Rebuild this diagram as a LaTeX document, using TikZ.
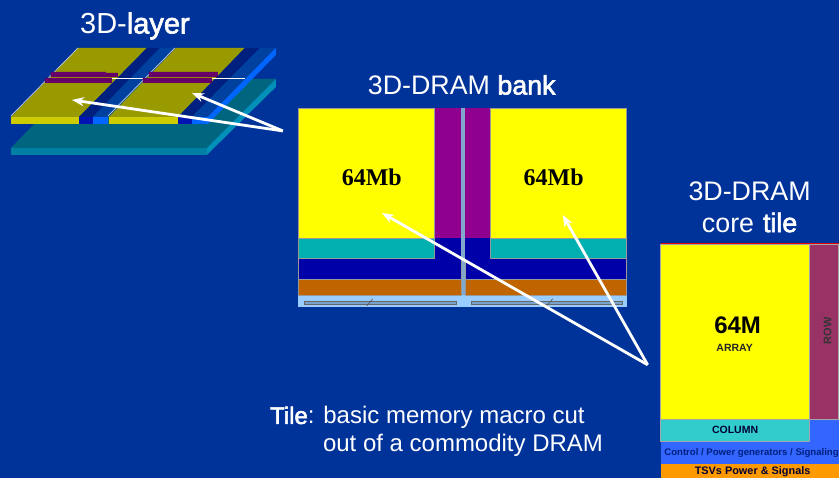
\documentclass[tikz,border=0pt]{standalone}
\usepackage{fontspec}
\setmainfont{Liberation Sans}
\newfontfamily\serifface{Liberation Serif}
\newfontfamily\fatface[FakeBold=2.2]{Liberation Sans}
\usetikzlibrary{arrows.meta}
\definecolor{slidebg}{HTML}{003399}
\definecolor{olivetop}{HTML}{999900}
\definecolor{olivefront}{HTML}{CCCC00}
\definecolor{stripdark}{HTML}{002080}
\definecolor{stripmid}{HTML}{00409F}
\definecolor{stripfront}{HTML}{0066FF}
\definecolor{tealtop}{HTML}{006680}
\definecolor{tealfront}{HTML}{007FA5}
\definecolor{tealside}{HTML}{0090B8}
\definecolor{wirepurple}{HTML}{660066}
\definecolor{bankyellow}{HTML}{FFFF00}
\definecolor{bankpurple}{HTML}{8F008F}
\definecolor{bankteal}{HTML}{00B0B0}
\definecolor{bankblue}{HTML}{0000A8}
\definecolor{bankorange}{HTML}{C06400}
\definecolor{banklight}{HTML}{99CCFF}
\definecolor{bankdivider}{HTML}{7FA8CC}
\definecolor{tilerow}{HTML}{993366}
\definecolor{tileteal}{HTML}{33CCCC}
\definecolor{tileblue}{HTML}{3366FF}
\definecolor{tileorange}{HTML}{FF9900}
\begin{document}
\begin{tikzpicture}[x=1pt,y=-1pt,>={Stealth[length=12pt,width=9pt]}]
    \tikzstyle{block} = [rectangle, anchor=north west, inner sep=0pt, outer sep=0pt];
    \tikzstyle{bankblock} = [block, draw=black!40, line width=0.4pt];
    \tikzstyle{tileblock} = [block, draw=black!35, line width=0.4pt];
    \tikzstyle{heading} = [text=white, font=\fontsize{26.8}{32}\selectfont, align=center];
    \tikzstyle{memlabel} = [font=\serifface\bfseries\fontsize{24}{28}\selectfont];
    \tikzstyle{pointer} = [->, draw=white, line width=2.8pt];
    \fill [slidebg] (0,0) rectangle (839,478);
    % bottom layer
    \fill [tealtop] (78,79) -- (276,79) -- (207,148) -- (11,148) -- cycle;
    \fill [tealfront] (11,148) rectangle (207,155);
    \fill [tealside] (276,79) -- (276,87) -- (207,155) -- (207,148) -- cycle;
    % top layer
    \fill [olivetop] (78,48) -- (147,48) -- (79,117) -- (11,117) -- cycle;
    \fill [stripdark] (147,48) -- (160,48) -- (93,117) -- (79,117) -- cycle;
    \fill [stripmid] (160,48) -- (175,48) -- (108,117) -- (93,117) -- cycle;
    \fill [olivetop] (176,48) -- (245,48) -- (178,117) -- (109,117) -- cycle;
    \fill [stripdark] (245,48) -- (260,48) -- (192,117) -- (178,117) -- cycle;
    \fill [stripmid] (260,48) -- (276,48) -- (208,117) -- (192,117) -- cycle;
    \fill [stripfront] (276,48) -- (276,55) -- (208,124) -- (208,117) -- cycle;
    \fill [olivefront] (11,117) rectangle (79,124);
    \fill [stripdark!60!blue] (79,117) rectangle (93,124);
    \fill [stripfront] (93,117) rectangle (108,124);
    \fill [olivefront] (109,117) rectangle (178,124);
    \fill [stripdark!60!blue] (178,117) rectangle (192,124);
    \fill [stripfront] (192,117) rectangle (208,124);
    \draw [white!75!slidebg, line width=0.7pt] (11,116) -- (78,48) (108,116) -- (175,48);
    \draw [white, line width=0.7pt] (106,78) -- (245,78);
    \fill [wirepurple] (51,72) rectangle (106,77) (106,73) rectangle (118,77) (45,78) rectangle (112,83);
    \fill [wirepurple] (149,72) rectangle (218,77) (143,78) rectangle (212,83);
    % bank
    \node [block, fill=banklight, minimum width=329pt, minimum height=199pt] (banklight) at (298,108) {};
    \node [block, fill=bankdivider, minimum width=4pt, minimum height=187pt] (bankdivider) at (461,108) {};
    \node [bankblock, fill=bankorange, minimum width=163pt, minimum height=16pt] (orangel) at (298,279) {};
    \node [bankblock, fill=bankorange, minimum width=162pt, minimum height=16pt] (oranger) at (465,279) {};
    \node [bankblock, fill=bankblue, minimum width=163pt, minimum height=21pt] (bluel) at (298,258) {};
    \node [bankblock, fill=bankblue, minimum width=162pt, minimum height=21pt] (bluer) at (465,258) {};
    \node [block, fill=bankblue, minimum width=27pt, minimum height=21pt] (bluemidl) at (434,238) {};
    \node [block, fill=bankblue, minimum width=25pt, minimum height=21pt] (bluemidr) at (465,238) {};
    \node [bankblock, fill=bankteal, minimum width=136pt, minimum height=20pt] (teall) at (298,238) {};
    \node [bankblock, fill=bankteal, minimum width=137pt, minimum height=20pt] (tealr) at (490,238) {};
    \node [block, fill=bankpurple, minimum width=27pt, minimum height=130pt] (purplel) at (434,108) {};
    \node [block, fill=bankpurple, minimum width=25pt, minimum height=130pt] (purpler) at (465,108) {};
    \node [bankblock, fill=bankyellow, minimum width=136pt, minimum height=130pt] (memleft) at (298,108) {};
    \node [bankblock, fill=bankyellow, minimum width=137pt, minimum height=130pt] (memright) at (490,108) {};
    \node [memlabel] (memleftname) at (372,177) {64Mb};
    \node [memlabel] (memrightname) at (554,177) {64Mb};
    \node [block, draw=black!60, fill=banklight!80!black, minimum width=152pt, minimum height=3pt, line width=0.5pt] (slotl) at (304,301) {};
    \node [block, draw=black!60, fill=banklight!80!black, minimum width=152pt, minimum height=3pt, line width=0.5pt] (slotr) at (471,301) {};
    \draw [black!65, line width=0.7pt] (slotl.center) ++(-7,-3.5) -- ++(-6,7);
    \draw [black!65, line width=0.7pt] (slotr.center) ++(6,-3.5) -- ++(-6,7);
    % tile
    \node [block, fill=tileblue, minimum width=178pt, minimum height=45pt] (tilecontrol) at (661,419) {};
    \node [block, fill=tileorange, minimum width=178pt, minimum height=14pt] (tiletsv) at (661,464) {};
    \node [tileblock, fill=bankyellow, minimum width=149pt, minimum height=175pt] (tilearray) at (661,244) {};
    \node [tileblock, fill=tilerow, minimum width=29pt, minimum height=175pt] (tilerow) at (810,244) {};
    \node [tileblock, fill=tileteal, minimum width=149pt, minimum height=22pt, font=\bfseries\fontsize{10.5}{12}\selectfont, text=black!80!blue] (tilecolumn) at (661,419) {COLUMN};
    \draw [red!90!black, line width=0.9pt] (661,244) -- (839,244);
    \node [font=\bfseries\fontsize{24}{28}\selectfont] (arraysize) at (738,325) {64M};
    \node [font=\bfseries\fontsize{10.5}{12}\selectfont, text=black!85] (arrayname) at (735,348) {ARRAY};
    \node [rotate=90, font=\bfseries\fontsize{11}{12}\selectfont, text=black!80] (rowname) at (828,331) {ROW};
    \node [anchor=west, inner sep=0pt, font=\bfseries\fontsize{9.6}{11}\selectfont, text=stripdark] (controlname) at (664.5,453) {Control / Power generators / Signaling};
    \node [inner sep=0pt, font=\bfseries\fontsize{10.9}{13}\selectfont, text=black!80!blue] (tsvname) at (753,472) {TSVs Power \& Signals};
    % titles
    \node [heading, font=\fontsize{29}{32}\selectfont] (layertitle) at (135,26) {3D-{\fatface layer}};
    \node [heading] (banktitle) at (462,85) {3D-DRAM {\fatface bank}};
    \node [heading, text width=170pt] (tiletitle) at (750,207) {3D-DRAM\\core {\fatface tile}};
    \node [anchor=west, inner sep=0pt, text=white, font=\fontsize{24}{28}\selectfont] (tileline) at (270,418) {{\fatface Tile}: basic memory macro cut};
    \node [anchor=west, inner sep=0pt, text=white, font=\fontsize{24}{28}\selectfont] (tilelinetwo) at (323,446) {out of a commodity DRAM};
    % arrows
    \coordinate (layerfrom) at (283,131);
    \coordinate (layertipl) at (72,100);
    \coordinate (layertipr) at (192,93);
    \coordinate (bankfrom) at (648,365);
    \coordinate (banktipl) at (382,213);
    \coordinate (banktipr) at (563,215);
    \draw [pointer] (layerfrom) -- (layertipl);
    \draw [pointer] (layerfrom) -- (layertipr);
    \draw [pointer] (bankfrom) -- (banktipl);
    \draw [pointer] (bankfrom) -- (banktipr);
    \useasboundingbox (0,0) rectangle (839,478);
  \end{tikzpicture}
\end{document}
